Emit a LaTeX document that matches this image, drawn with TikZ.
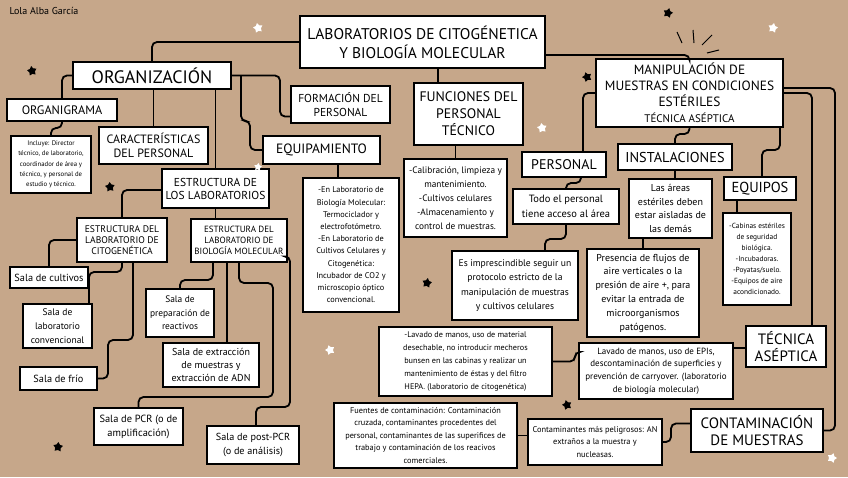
\documentclass[tikz,border=0pt]{standalone}
\usepackage{fontspec}
\setmainfont{PT Sans}
\usetikzlibrary{shapes.geometric}
\definecolor{kraft}{RGB}{198,167,138}
\newcommand\myfs[2]{\fontsize{#1}{#2}\selectfont}
\begin{document}
\begin{tikzpicture}[x=1pt,y=-1pt,
 box/.style={draw=black, fill=white, line width=1.8pt, align=center, inner sep=1pt, outer sep=0pt},
 conn/.style={draw=black, line width=1.8pt, rounded corners=5pt},
 bstar/.style={star, star points=5, star point ratio=1.7, fill=black, inner sep=0pt, minimum size=10pt},
 wstar/.style={bstar, fill=white},
 ray/.style={draw=black, line width=1pt}]
\fill[kraft] (0,0) rectangle (848,477);
\useasboundingbox (0,0) rectangle (848,477);
\node[anchor=west,font=\myfs{10}{12}] (author) at (6,11) {Lola Alba García};

% main boxes
\node[box,minimum width=245pt,minimum height=52pt,font=\myfs{15.5}{19}] (title) at (422.5,42) {LABORATORIOS DE CITOGÉNETICA\\Y BIOLOGÍA MOLECULAR};
\node[box,minimum width=158pt,minimum height=27pt,font=\myfs{18}{20}] (orgz) at (152,75.5) {ORGANIZACIÓN};
\node[box,minimum width=110pt,minimum height=22pt,font=\myfs{12.3}{14}] (orgm) at (62,110) {ORGANIGRAMA};
\node[box,minimum width=80pt,minimum height=57pt,font=\myfs{6.7}{10.3}] (incl) at (51,164.5) {Incluye: Director\\técnico, de laboratorio,\\coordinador de área y\\técnico, y personal de\\estudio y técnico.};
\node[box,minimum width=109pt,minimum height=37pt,font=\myfs{12}{14}] (carac) at (153.5,145.5) {CARACTERÍSTICAS\\DEL PERSONAL};
\node[box,minimum width=99pt,minimum height=37pt,font=\myfs{11.5}{14}] (form) at (340.5,104.5) {FORMACIÓN DEL\\PERSONAL};
\node[box,minimum width=117pt,minimum height=28pt,font=\myfs{13.5}{15}] (equip) at (321.5,150) {EQUIPAMIENTO};
\node[box,minimum width=109pt,minimum height=62pt,font=\myfs{13.8}{17}] (func) at (468.5,114) {FUNCIONES DEL\\PERSONAL\\TÉCNICO};
\node[box,minimum width=187pt,minimum height=68pt,font=\myfs{13.4}{16}] (manip) at (689.5,93) {MANIPULACIÓN DE\\MUESTRAS EN CONDICIONES\\ESTÉRILES\\{\myfs{11}{14}TÉCNICA ASÉPTICA}};
\node[box,minimum width=114pt,minimum height=26pt,font=\myfs{14.3}{16}] (inst) at (675,157) {INSTALACIONES};
\node[box,minimum width=84pt,minimum height=25pt,font=\myfs{14}{16}] (pers) at (564,164.5) {PERSONAL};
\node[box,minimum width=106pt,minimum height=35pt,font=\myfs{10.5}{14.5}] (todo) at (566,206.5) {Todo el personal\\tiene acceso al área};
\node[box,minimum width=83pt,minimum height=59pt,font=\myfs{10}{13.5}] (areas) at (670.5,208.5) {Las áreas\\estériles deben\\estar aisladas de\\las demás};
\node[box,minimum width=72pt,minimum height=23pt,font=\myfs{14.5}{16}] (equipos) at (760,188.5) {EQUIPOS};
\node[box,minimum width=68pt,minimum height=92pt,font=\myfs{7.4}{11}] (cabinas) at (757,259) {-Cabinas estériles\\de seguridad\\biológica.\\-Incubadoras.\\-Poyatas/suelo.\\-Equipos de aire\\acondicionado.};
\node[box,minimum width=103pt,minimum height=78pt,font=\myfs{9.3}{14}] (functxt) at (455.5,198) {-Calibración, limpieza y\\mantenimiento.\\-Cultivos celulares\\-Almacenamiento y\\control de muestras.};
\node[box,minimum width=96pt,minimum height=134pt,font=\myfs{8.3}{12.2}] (equiptxt) at (351,245) {-En Laboratorio de\\Biología Molecular:\\Termociclador y\\electrofotómetro.\\-En Laboratorio de\\Cultivos Celulares y\\Citogenética:\\Incubador de CO2 y\\microscopio óptico\\convencional.};
\node[box,minimum width=126pt,minimum height=69pt,font=\myfs{9.6}{14.5}] (impresc) at (515,285.5) {Es imprescindible seguir un\\protocolo estricto de la\\manipulación de muestras\\y cultivos celulares};
\node[box,minimum width=112pt,minimum height=88pt,font=\myfs{10}{13.8}] (presencia) at (643,293) {Presencia de flujos de\\aire verticales o la\\presión de aire +, para\\evitar la entrada de\\microorganismos\\patógenos.};
\node[box,minimum width=80pt,minimum height=41pt,font=\myfs{15}{17}] (tecasep) at (786,346.5) {TÉCNICA\\ASÉPTICA};
\node[box,minimum width=154pt,minimum height=56pt,font=\myfs{9}{12.7}] (lavbio) at (656,371) {Lavado de manos, uso de EPIs,\\descontaminación de superficies y\\prevención de carryover. (laboratorio\\de biología molecular)};
\node[box,minimum width=173pt,minimum height=69pt,font=\myfs{8.2}{13}] (lavcito) at (465.5,361.5) {-Lavado de manos, uso de material\\desechable, no introducir mecheros\\bunsen en las cabinas y realizar un\\mantenimiento de éstas y del filtro\\HEPA. (laboratorio de citogenética)};
\node[box,minimum width=132pt,minimum height=43pt,font=\myfs{15}{17}] (contam) at (757,430.5) {CONTAMINACIÓN\\DE MUESTRAS};
\node[box,minimum width=134pt,minimum height=46pt,font=\myfs{8.4}{12.7}] (peligro) at (595,442) {Contaminantes más peligrosos: AN\\extraños a la muestra y\\nucleasas.};
\node[box,minimum width=183pt,minimum height=65pt,font=\myfs{8.3}{12.5}] (fuentes) at (425.5,435.5) {Fuentes de contaminación: Contaminación\\cruzada, contaminantes procedentes del\\personal, contaminantes de las superifices de\\trabajo y contaminación de los reacivos\\comerciales.};
\node[box,minimum width=107pt,minimum height=39pt,font=\myfs{11.5}{13}] (estlab) at (215.5,188.5) {ESTRUCTURA DE\\LOS LABORATORIOS};
\node[box,minimum width=90pt,minimum height=44pt,font=\myfs{9.6}{11}] (estcito) at (122,240) {ESTRUCTURA DEL\\LABORATORIO DE\\CITOGENÉTICA};
\node[box,minimum width=96pt,minimum height=43pt,font=\myfs{9}{11}] (estbio) at (239,240.5) {ESTRUCTURA DEL\\LABORATORIO DE\\BIOLOGÍA MOLECULAR};
\node[box,minimum width=78pt,minimum height=21pt,font=\myfs{10.3}{12}] (cultivos) at (49,277.5) {Sala de cultivos};
\node[box,minimum width=69pt,minimum height=44pt,font=\myfs{9.5}{13.7}] (labconv) at (57.5,326) {Sala de\\laboratorio\\convencional};
\node[box,minimum width=77pt,minimum height=23pt,font=\myfs{10.3}{12}] (frio) at (58.5,378.5) {Sala de frío};
\node[box,minimum width=68pt,minimum height=48pt,font=\myfs{9.4}{13.7}] (prep) at (180,313) {Sala de\\preparación de\\reactivos};
\node[box,minimum width=96pt,minimum height=44pt,font=\myfs{10}{13}] (extr) at (211,365) {Sala de extracción\\de muestras y\\extracción de ADN};
\node[box,minimum width=89pt,minimum height=37pt,font=\myfs{10.4}{14}] (pcr) at (138.5,426.5) {Sala de PCR (o de\\amplificación)};
\node[box,minimum width=92pt,minimum height=38pt,font=\myfs{10.2}{14}] (post) at (253,445) {Sala de post-PCR\\(o de análisis)};

% connectors
\draw[conn] (title.west) -| (orgz.north);
\draw[conn] (438,0 |- title.south) -- (438,0 |- func.north);
\draw[conn] ([yshift=-13pt]title.east) -| (manip.north);
\draw[conn] (orgz.west) -| (orgm.north);
\draw[conn] (orgm.south) -- ++(0,7) -| (incl.north);
\draw[conn] (carac.north |- orgz.south) -- (carac.north);
\draw[conn] (estlab.north |- orgz.south) -- (estlab.north);
\draw[conn] (orgz.east) -- (280,75.5) -- (280,116.5) -- ([yshift=-12pt]form.west);
\draw[conn] (241,75.5) -- (241,121) -- (250,121) -- (250,150) -- (equip.west);
\draw[conn] ([yshift=-1.5pt]estlab.west) -| (estcito.north);
\draw[conn] (estlab.south) -- (estlab.south |- estbio.north);
\draw[conn] (estcito.west) -| (cultivos.north);
\draw[conn] (estcito.south) -- (122,272) -| ([xshift=-3pt]labconv.north east);
\draw[conn] (133,0 |- estcito.south) -- (133,340) -- (108,340) -- (108,378.5) -- (frio.east);
\draw[conn] (213,0 |- estbio.south) -- (213,280) -| (prep.north);
\draw[conn] (227,0 |- estbio.south) -- (227,0 |- extr.north);
\draw[conn] (239,0 |- estbio.south) -- (239,283) -- (273,283) -- (273,397) -| (pcr.north);
\draw[conn] ([yshift=-16pt]estbio.east) -- (290,256.5) -- (290,407) -| ([xshift=3pt]post.north);
\draw[conn] (338,0 |- equip.south) -- (338,0 |- equiptxt.north);
\draw[conn] (functxt.north |- func.south) -- (functxt.north);
\draw[conn] (manip.west) -| ([xshift=19pt]pers.north);
\draw[conn] (manip.south) -- ++(0,7) -| (inst.north);
\draw[conn] (780,0 |- manip.south) -- (780,150) -| ([xshift=2pt]equipos.north);
\draw[conn] (manip.east) -| ([xshift=26pt]tecasep.north);
\draw[conn] ([yshift=5pt]manip.east) -- (835,88) |- (contam.east);
\draw[conn] ([xshift=17pt]pers.south) -- ++(0,6) -| (todo.north);
\draw[conn] (todo.south) -- ++(0,15) -| ([xshift=30pt]impresc.north);
\draw[conn] (inst.south) -- (inst.south |- areas.north);
\draw[conn] (presencia.north |- areas.south) -- (presencia.north);
\draw[conn] (737,0 |- equipos.south) -- (737,0 |- cabinas.north);
\draw[conn] ([yshift=-1.5pt]tecasep.west) -- ([yshift=-1.5pt]tecasep.west -| lavbio.east);
\draw[conn] ([yshift=19pt]lavbio.west) -- (575,352) |- (lavcito.east);
\draw[conn] ([yshift=7pt]contam.west) -- (671,423.5) |- (peligro.east);
\draw[conn] (fuentes.east) -- (fuentes.east -| peligro.west);

% decorations
\node[bstar,rotate=10] (s1) at (32,71) {};
\node[bstar,rotate=-15] (s2) at (668,13) {};
\node[bstar,rotate=20] (s3) at (587,77) {};
\node[bstar,rotate=5] (s4) at (110,187) {};
\node[bstar,rotate=-10] (s5) at (427,283) {};
\node[bstar,rotate=15] (s6) at (567,405) {};
\node[bstar,rotate=-5] (s7) at (58,447) {};
\node[wstar,rotate=12] (s8) at (258,28) {};
\node[wstar,rotate=-12] (s9) at (773,28) {};
\node[wstar,rotate=8] (s10) at (542,128) {};
\node[wstar,rotate=-8,minimum size=8pt] (s11) at (258,167) {};
\node[wstar,rotate=18] (s12) at (330,350) {};
\node[wstar,rotate=-18] (s13) at (832,458) {};
\draw[ray] (677,32) -- (682,43);
\draw[ray] (693,30) -- (694,43);
\draw[ray] (712,35) -- (702,45);
\draw[ray] (707,53) -- (719,50);
\end{tikzpicture}
\end{document}
